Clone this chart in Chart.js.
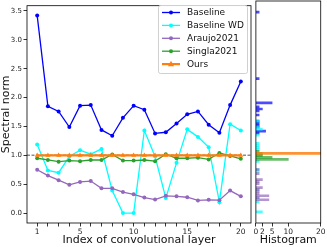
<!DOCTYPE html>
<html>
<head>
<meta charset="utf-8">
<script src="https://cdn.jsdelivr.net/npm/chart.js@4.4.1/dist/chart.umd.min.js"></script>
<style>
  html, body { margin: 0; padding: 0; background: #fff; }
  #wrap { position: relative; width: 327px; height: 247px; }
  #mainBox { position: absolute; left: 0; top: 0; width: 252px; height: 247px; }
  #histBox { position: absolute; left: 252px; top: 0; width: 75px; height: 247px; }
</style>
</head>
<body>
<div id="wrap">
  <div id="mainBox"><canvas id="mainChart"></canvas></div>
  <div id="histBox"><canvas id="histChart"></canvas></div>
</div>
<script>
// layer index
const layers = [1, 2, 3, 4, 5, 6, 7, 8, 9, 10, 11, 12, 13, 14, 15, 16, 17, 18, 19, 20];

// spectral norm per layer
const baseline = [3.42, 1.85, 1.76, 1.49, 1.86, 1.87, 1.44, 1.34, 1.65, 1.86, 1.79, 1.38, 1.40, 1.55, 1.71, 1.76, 1.53, 1.39, 1.87, 2.28];
const baselineWD = [1.19, 0.74, 0.70, 0.98, 1.09, 1.02, 1.11, 0.39, 0.0, 0.0, 1.43, 0.98, 0.26, 0.87, 1.45, 1.32, 1.14, 0.19, 1.54, 1.43];
const araujo = [0.75, 0.65, 0.57, 0.49, 0.54, 0.555, 0.43, 0.43, 0.365, 0.325, 0.27, 0.235, 0.30, 0.29, 0.275, 0.22, 0.23, 0.225, 0.39, 0.29];
const singla = [0.95, 0.92, 0.89, 0.91, 0.90, 0.92, 0.92, 1.015, 0.91, 0.91, 0.92, 0.90, 1.02, 0.95, 0.95, 0.96, 0.93, 1.04, 0.99, 0.94];
const ours = [1, 1, 1, 1, 1, 1, 1, 1, 1, 1, 1, 1, 1, 1, 1, 1, 1, 1, 1, 1];

const seriesNames = ['Baseline', 'Baseline WD', 'Araujo2021', 'Singla2021', 'Ours'];
const seriesColors = ['#0000ff', '#00ffff', '#9467bd', '#2ca02c', '#ff7f0e'];
const seriesMarkers = ['circle', 'circle', 'circle', 'circle', 'triangle'];
const allSeries = [baseline, baselineWD, araujo, singla, ours];

const refValue = 1.0;
const yTicks = [0.0, 0.5, 1.0, 1.5, 2.0, 2.5, 3.0, 3.5];
const xLabeled = [1, 5, 10, 15, 20];
const histTicks = [0, 2, 5, 10, 20];
const nBins = 100;

const yMin = -0.171, yMax = 3.591;
const FONT = 'DejaVu Sans';

function alpha(hex, a) {
  const n = parseInt(hex.slice(1), 16);
  return 'rgba(' + (n >> 16) + ',' + ((n >> 8) & 255) + ',' + (n & 255) + ',' + a + ')';
}

// frame around plot area, like matplotlib spines
const framePlugin = {
  id: 'frame',
  afterDatasetsDraw(chart) {
    const a = chart.chartArea, ctx = chart.ctx;
    ctx.save();
    ctx.strokeStyle = '#000';
    ctx.lineWidth = 0.8;
    ctx.strokeRect(a.left, a.top, a.right - a.left, a.bottom - a.top);
    ctx.restore();
  }
};

const refLinePlugin = {
  id: 'refLine',
  beforeDatasetsDraw(chart) {
    const a = chart.chartArea, ctx = chart.ctx;
    const y = chart.scales.y.getPixelForValue(refValue);
    ctx.save();
    ctx.strokeStyle = 'rgba(128,128,128,0.9)';
    ctx.lineWidth = 1.5;
    ctx.setLineDash([3, 1.5]);
    ctx.beginPath();
    ctx.moveTo(a.left, y);
    ctx.lineTo(a.right, y);
    ctx.stroke();
    ctx.restore();
  }
};

function drawMarker(ctx, style, x, y, r) {
  ctx.beginPath();
  if (style === 'triangle') {
    ctx.moveTo(x, y - r * 1.2);
    ctx.lineTo(x + r * 1.1, y + r * 0.75);
    ctx.lineTo(x - r * 1.1, y + r * 0.75);
    ctx.closePath();
  } else {
    ctx.arc(x, y, r, 0, Math.PI * 2);
  }
  ctx.fill();
}

// matplotlib style legend box in upper right
const legendPlugin = {
  id: 'mplLegend',
  afterDraw(chart) {
    const ctx = chart.ctx;
    const bx = 158, by = 5, bw = 89, bh = 68;
    ctx.save();
    ctx.fillStyle = 'rgba(255,255,255,0.85)';
    ctx.strokeStyle = '#d0d0d0';
    ctx.lineWidth = 1;
    ctx.beginPath();
    ctx.roundRect(bx + 0.5, by + 0.5, bw, bh, 2);
    ctx.fill();
    ctx.stroke();
    ctx.font = '9px "' + FONT + '"';
    ctx.textBaseline = 'middle';
    chart.data.datasets.forEach((ds, i) => {
      const y = by + 7.5 + i * 12.9;
      ctx.strokeStyle = ds.borderColor;
      ctx.fillStyle = ds.borderColor;
      ctx.lineWidth = ds.borderWidth;
      ctx.beginPath();
      ctx.moveTo(162, y);
      ctx.lineTo(180, y);
      ctx.stroke();
      drawMarker(ctx, ds.pointStyle, 171, y, ds.pointRadius);
      ctx.fillStyle = '#111';
      ctx.fillText(ds.label, 187, y + 0.5);
    });
    ctx.restore();
  }
};

const lineSets = allSeries.map((vals, i) => ({
  label: seriesNames[i],
  data: vals.map((v, k) => ({ x: layers[k], y: v })),
  borderColor: seriesColors[i],
  backgroundColor: seriesColors[i],
  borderWidth: i === 4 ? 2.2 : 1.3,
  pointStyle: seriesMarkers[i],
  pointRadius: i === 4 ? 2.8 : 2,
  pointBorderWidth: 0,
  order: 5 - i
}));

new Chart('mainChart', {
  type: 'line',
  data: { datasets: lineSets },
  options: {
    responsive: true,
    maintainAspectRatio: false,
    animation: false,
    layout: { padding: { top: 1, right: 1, left: 0, bottom: 0 }, autoPadding: false },
    plugins: { legend: { display: false }, tooltip: { enabled: false } },
    scales: {
      x: {
        type: 'linear', min: 0.05, max: 20.95,
        afterBuildTicks: s => { s.ticks = layers.map(v => ({ value: v })); },
        afterFit: s => { s.height = 24; },
        grid: { drawOnChartArea: false, tickLength: 3.5, color: '#000', lineWidth: 0.8 },
        border: { display: false },
        ticks: {
          autoSkip: false, maxRotation: 0, padding: 1.5, color: '#222',
          font: { family: FONT, size: 7.5 },
          callback: v => xLabeled.includes(v) ? String(v) : ''
        },
        title: { display: true, text: 'Index of convolutional layer', color: '#111',
          font: { family: FONT, size: 11 }, padding: { top: 0, bottom: 0 } }
      },
      y: {
        min: yMin, max: yMax,
        afterBuildTicks: s => { s.ticks = yTicks.map(v => ({ value: v })); },
        afterFit: s => { s.width = 27; },
        grid: { drawOnChartArea: false, tickLength: 3.5, color: '#000', lineWidth: 0.8 },
        border: { display: false },
        ticks: { padding: 1.5, color: '#222', font: { family: FONT, size: 7 },
          callback: v => v.toFixed(1) },
        title: { display: true, text: 'Spectral norm', color: '#111',
          font: { family: FONT, size: 11 }, padding: { top: 0, bottom: 0 } }
      }
    }
  },
  plugins: [framePlugin, refLinePlugin, legendPlugin]
});

// histogram of the same values, shared bin edges
const flat = [].concat(...allSeries);
const lo = Math.min(...flat), hi = Math.max(...flat);
const binW = (hi - lo) / nBins;
const histSets = allSeries.map((vals, i) => {
  const counts = new Array(nBins).fill(0);
  vals.forEach(v => {
    let k = Math.floor((v - lo) / binW);
    if (k >= nBins) k = nBins - 1;
    counts[k]++;
  });
  const pts = [];
  counts.forEach((c, k) => { if (c > 0) pts.push({ x: c, y: lo + (k + 0.5) * binW }); });
  return {
    label: seriesNames[i],
    data: pts,
    backgroundColor: alpha(seriesColors[i], i === 4 ? 0.85 : 0.7),
    borderWidth: 0,
    barThickness: 2,
    grouped: false,
    order: 5 - i
  };
});

new Chart('histChart', {
  type: 'bar',
  data: { datasets: histSets },
  options: {
    indexAxis: 'y',
    responsive: true,
    maintainAspectRatio: false,
    animation: false,
    layout: { padding: { top: 1, right: 5, left: 1, bottom: 0 }, autoPadding: false },
    plugins: { legend: { display: false }, tooltip: { enabled: false } },
    scales: {
      y: { type: 'linear', min: yMin, max: yMax, offset: false, display: false },
      x: {
        type: 'linear', min: 0, max: 20,
        afterBuildTicks: s => { s.ticks = histTicks.map(v => ({ value: v })); },
        afterFit: s => { s.height = 24; },
        grid: { drawOnChartArea: false, tickLength: 3.5, color: '#000', lineWidth: 0.8 },
        border: { display: false },
        ticks: { autoSkip: false, maxRotation: 0, padding: 1.5, color: '#222',
          font: { family: FONT, size: 7.5 } },
        title: { display: true, text: 'Histogram', color: '#111',
          font: { family: FONT, size: 11 }, padding: { top: 0, bottom: 0 } }
      }
    }
  },
  plugins: [framePlugin]
});
</script>
</body>
</html>
